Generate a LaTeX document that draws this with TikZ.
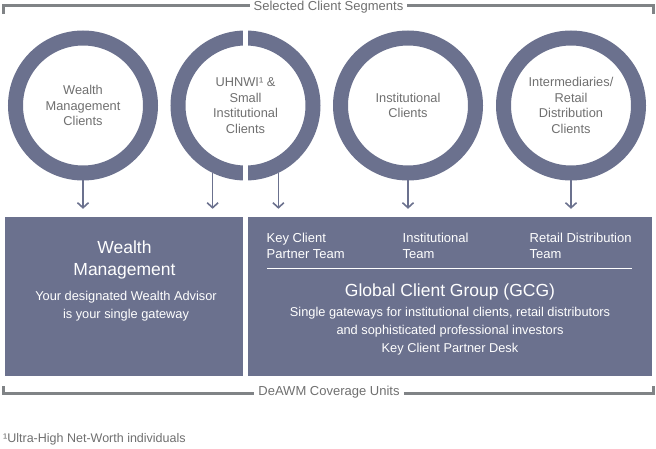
\documentclass[tikz,border=0pt]{standalone}
\usepackage{fontspec}
\setmainfont{Liberation Sans}
\usetikzlibrary{arrows.meta, positioning, calc}
\definecolor{slate}{HTML}{6B718E}
\definecolor{rulegray}{HTML}{808386}
\definecolor{labelgray}{HTML}{6F6F6F}

\begin{document}
\begin{tikzpicture}[x=1pt, y=-1pt,
        segment/.style={circle, draw=slate, line width=15pt, minimum size=135pt, inner sep=0pt},
        segtext/.style={text=labelgray, align=center, font=\fontsize{12.8}{15.5}\selectfont},
        unit/.style={fill=slate, inner sep=0pt, minimum height=159pt},
        feed/.style={draw=slate, line width=1.6pt, -{Straight Barb[length=5pt, width=11pt, line width=1.6pt]}, shorten >=8pt},
        bracket/.style={draw=rulegray, line width=2.5pt},
        caption/.style={text=labelgray, font=\fontsize{13}{15}\selectfont, inner xsep=4pt, inner ysep=0pt},
        boxtext/.style={text=white, align=center, inner sep=0pt}]

        \useasboundingbox (0,0) rectangle (656,449);

        % client segments
        \node [segment, segtext] (wmc) at (83,105.5) {Wealth\\Management\\Clients};
        \node [segment] (uhn) at (245.5,105.5) {};
        \fill [white] (243,25) rectangle (248,190);
        \node [segtext] (uhntext) at (uhn) {UHNWI¹ \&\\Small\\Institutional\\Clients};
        \node [segment, segtext] (inc) at (408,105.5) {Institutional\\Clients};
        \node [segment, segtext] (idc) at (571,105.5) {Intermediaries/\\Retail\\Distribution\\Clients};

        % coverage units
        \node [unit, minimum width=238pt] (wm) at (124,296.5) {};
        \node [unit, minimum width=404pt] (gcg) at (450,296.5) {};

        \draw [feed] (wmc.south) -- (wmc.south |- wm.north);
        \draw [feed] (uhn.-116) -- (uhn.-116 |- wm.north);
        \draw [feed] (uhn.-64) -- (uhn.-64 |- gcg.north);
        \draw [feed] (inc.south) -- (inc.south |- gcg.north);
        \draw [feed] (idc.south) -- (idc.south |- gcg.north);

        \node [boxtext, font=\fontsize{17.5}{22}\selectfont] (wmtitle) at (124.5,259.5) {Wealth\\Management};
        \node [boxtext, font=\fontsize{12.8}{18}\selectfont] (wmsub) at (126,306.5) {Your designated Wealth Advisor\\is your single gateway};

        \node [boxtext, align=left, anchor=north west, font=\fontsize{13}{16}\selectfont] (kcp) at (266.5,232.5) {Key Client\\Partner Team};
        \node [boxtext, align=left, anchor=north west, font=\fontsize{13}{16}\selectfont] (itm) at (402.5,232.5) {Institutional\\Team};
        \node [boxtext, align=left, anchor=north west, font=\fontsize{13}{16}\selectfont] (rdt) at (529.5,232.5) {Retail Distribution\\Team};
        \draw [white, line width=1pt] (267,268.5) -- (632,268.5);

        \node [boxtext, font=\fontsize{17.5}{22}\selectfont] (gcgtitle) at (450,291.5) {Global Client Group (GCG)};
        \node [boxtext, font=\fontsize{12.8}{18}\selectfont] (gcgsub) at (450,331.5) {Single gateways for institutional clients, retail distributors\\and sophisticated professional investors\\Key Client Partner Desk};

        % brackets
        \node [caption] (sel) at (328.5,7.5) {Selected Client Segments};
        \coordinate (selL) at (3.5,14);
        \coordinate (selR) at (653.5,14);
        \draw [bracket] (selL) |- ([yshift=2pt]sel.west);
        \draw [bracket] ([yshift=2pt]sel.east) -| (selR);

        \node [caption] (cov) at (329,392) {DeAWM Coverage Units};
        \coordinate (covL) at (3.5,386);
        \coordinate (covR) at (653.5,386);
        \draw [bracket] (covL) |- ([yshift=-1.5pt]cov.west);
        \draw [bracket] ([yshift=-1.5pt]cov.east) -| (covR);

        \node [anchor=west, text=labelgray, font=\fontsize{12.5}{15}\selectfont, inner sep=0pt] (note) at (3,439.5) {¹Ultra-High Net-Worth individuals};
\end{tikzpicture}
\end{document}
